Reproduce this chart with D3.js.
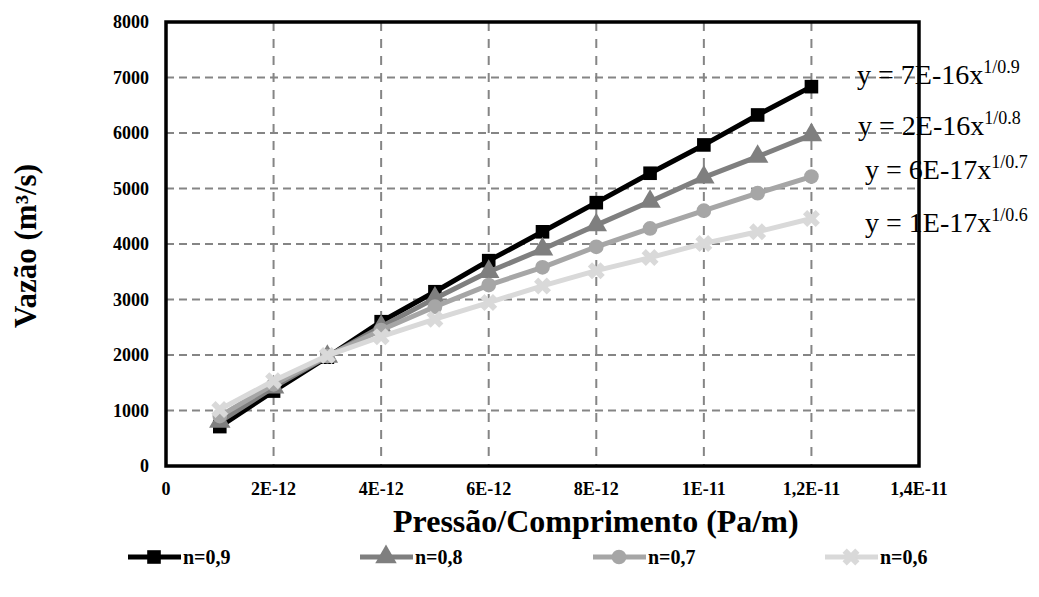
<!DOCTYPE html>
<html>
<head>
<meta charset="utf-8">
<script src="https://cdn.jsdelivr.net/npm/d3@7"></script>
<style>
  body { margin: 0; background: #fff; }
  text { font-family: "Liberation Serif", "Times New Roman", serif; }
</style>
</head>
<body>
<div id="canvas"></div>
<script>
// pressure gradient (Pa/m)
var pressures = [1e-12, 2e-12, 3e-12, 4e-12, 5e-12, 6e-12, 7e-12, 8e-12, 9e-12, 1e-11, 1.1e-11, 1.2e-11];
// flow rate per n
var n09 = [710, 1350, 1960, 2600, 3140, 3700, 4220, 4745, 5275, 5785, 6325, 6835];
var n08 = [800, 1420, 1970, 2510, 3020, 3500, 3905, 4340, 4765, 5200, 5575, 5965];
var n07 = [900, 1470, 1980, 2450, 2870, 3260, 3580, 3950, 4280, 4600, 4915, 5215];
var n06 = [1020, 1535, 1990, 2330, 2645, 2945, 3245, 3520, 3755, 4010, 4220, 4460];
var seriesNames = ["n=0,9", "n=0,8", "n=0,7", "n=0,6"];
var xTicks = [0, 2e-12, 4e-12, 6e-12, 8e-12, 1e-11, 1.2e-11, 1.4e-11];
var xTickLabels = ["0", "2E-12", "4E-12", "6E-12", "8E-12", "1E-11", "1,2E-11", "1,4E-11"];
var yTicks = [0, 1000, 2000, 3000, 4000, 5000, 6000, 7000, 8000];
var eqCoef = ["7E-16", "2E-16", "6E-17", "1E-17"];
var eqExp = ["1/0.9", "1/0.8", "1/0.7", "1/0.6"];

var W = 1039, H = 597;
var pLeft = 166, pRight = 919, pTop = 22, pBottom = 466;

var svg = d3.select("#canvas").append("svg")
  .attr("width", W).attr("height", H);

var x = d3.scaleLinear().domain([0, 1.4e-11]).range([pLeft, pRight]);
var y = d3.scaleLinear().domain([0, 8000]).range([pBottom, pTop]);

// grid
svg.append("g").selectAll("line")
  .data(yTicks.slice(1, -1)).enter().append("line")
  .attr("x1", pLeft).attr("x2", pRight)
  .attr("y1", function(d){ return y(d); }).attr("y2", function(d){ return y(d); })
  .attr("stroke", "#858585").attr("stroke-width", 2)
  .attr("stroke-dasharray", "8,5");
svg.append("g").selectAll("line")
  .data(xTicks.slice(1, -1)).enter().append("line")
  .attr("y1", pTop).attr("y2", pBottom)
  .attr("x1", function(d){ return x(d); }).attr("x2", function(d){ return x(d); })
  .attr("stroke", "#858585").attr("stroke-width", 2)
  .attr("stroke-dasharray", "9,8");

// tick labels
svg.append("g").selectAll("text")
  .data(yTicks).enter().append("text")
  .attr("x", 149).attr("y", function(d){ return y(d) + 6; })
  .attr("text-anchor", "end").attr("font-weight", "bold").attr("font-size", 18)
  .text(function(d){ return d; });
svg.append("g").selectAll("text")
  .data(xTicks).enter().append("text")
  .attr("x", function(d){ return x(d); }).attr("y", 495)
  .attr("text-anchor", "middle").attr("font-weight", "bold").attr("font-size", 18)
  .text(function(d, i){ return xTickLabels[i]; });

// series
var colors = ["#000000", "#7f7f7f", "#a6a6a6", "#d9d9d9"];
var symbols = [d3.symbolSquare, d3.symbolTriangle, d3.symbolCircle, d3.symbolCross];
var sizes = [185, 200, 170, 180];
var all = [n09, n08, n07, n06];

var line = d3.line()
  .x(function(d, i){ return x(pressures[i]); })
  .y(function(d){ return y(d); });

function marker(g, k, cx, cy){
  g.append("path")
    .attr("d", d3.symbol().type(symbols[k]).size(sizes[k])())
    .attr("transform", "translate(" + cx + "," + cy + ")" + (k == 3 ? " rotate(45)" : ""))
    .attr("fill", colors[k]);
}

all.forEach(function(vals, k){
  var g = svg.append("g");
  g.append("path").datum(vals)
    .attr("d", line)
    .attr("fill", "none").attr("stroke", colors[k]).attr("stroke-width", 5)
    .attr("stroke-linejoin", "round");
  vals.forEach(function(v, i){ marker(g, k, x(pressures[i]), y(v)); });
});

// equations
var eqY = [84, 135, 179, 232];
var eqX = [857, 858, 865, 865];
eqCoef.forEach(function(c, k){
  var t = svg.append("text")
    .attr("x", eqX[k]).attr("y", eqY[k])
    .attr("font-size", 28).attr("fill", "#000");
  t.append("tspan").text("y = " + c + "x");
  t.append("tspan").attr("font-size", 18).attr("dy", -11).text(eqExp[k]);
});

// plot border
svg.append("rect")
  .attr("x", pLeft).attr("y", pTop)
  .attr("width", pRight - pLeft).attr("height", pBottom - pTop)
  .attr("fill", "none").attr("stroke", "#000").attr("stroke-width", 3.5);

// axis titles
svg.append("text")
  .attr("x", 393).attr("y", 532)
  .attr("font-weight", "bold").attr("font-size", 32)
  .text("Pressão/Comprimento (Pa/m)");
svg.append("text")
  .attr("transform", "translate(36,246) rotate(-90)")
  .attr("text-anchor", "middle")
  .attr("font-weight", "bold").attr("font-size", 31)
  .text("Vazão (m³/s)");

// legend
var legX = [128, 360, 593, 825];
var legY = 557;
seriesNames.forEach(function(name, k){
  var g = svg.append("g");
  g.append("line")
    .attr("x1", legX[k]).attr("x2", legX[k] + 53)
    .attr("y1", legY).attr("y2", legY)
    .attr("stroke", colors[k]).attr("stroke-width", 5);
  marker(g, k, legX[k] + 26, legY);
  g.append("text")
    .attr("x", legX[k] + 55).attr("y", legY + 7)
    .attr("font-weight", "bold").attr("font-size", 20)
    .text(name);
});
</script>
</body>
</html>
